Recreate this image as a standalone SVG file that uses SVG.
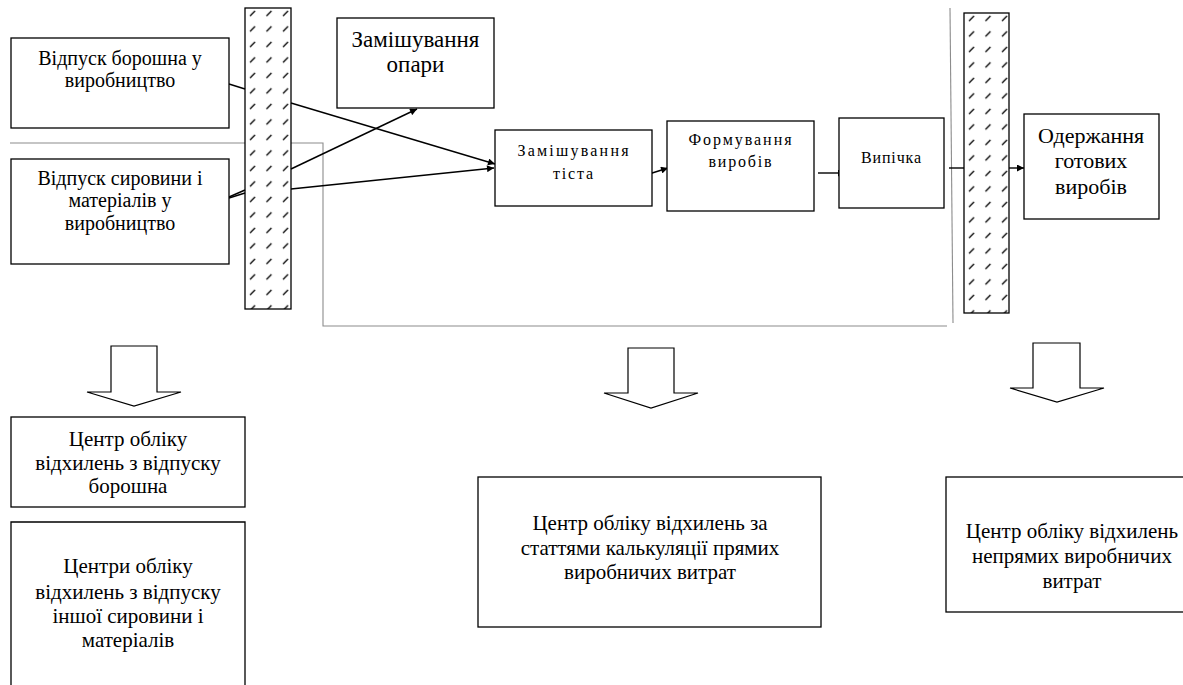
<svg xmlns="http://www.w3.org/2000/svg" width="1183" height="685" viewBox="0 0 1183 685">
  <style>
    .box { fill: #ffffff; stroke: #000000; stroke-width: 1.3; }
    .bar { stroke: #000000; stroke-width: 1.3; }
    .conn { stroke: #000000; stroke-width: 1.4; fill: none; }
    .guide { stroke: #8c8c8c; stroke-width: 1.1; fill: none; }
    .block { fill: #ffffff; stroke: #000000; stroke-width: 1.2; stroke-linejoin: miter; }
    .t { font-family: 'Liberation Serif', serif; fill: #000000; text-anchor: middle; }
    .s16 { font-size: 16px; }
    .s20 { font-size: 20px; }
    .s21 { font-size: 21px; }
    .s22 { font-size: 22px; }
    .s23 { font-size: 23px; }
  </style>
  <defs>
    <marker id="arrow" viewBox="0 0 10 10" refX="10" refY="5" markerWidth="8" markerHeight="7" markerUnits="userSpaceOnUse" orient="auto">
      <path d="M0,0 L10,5 L0,10 Z" fill="#000000"/>
    </marker>
    <pattern id="hatchA" patternUnits="userSpaceOnUse" x="245" y="8" width="16.5" height="15.5">
      <rect width="16.5" height="15.5" fill="#ffffff"/>
      <line x1="5" y1="8" x2="10" y2="3" stroke="#000000" stroke-width="1.3"/>
    </pattern>
    <pattern id="hatchB" patternUnits="userSpaceOnUse" x="964" y="13" width="16.5" height="15.5">
      <rect width="16.5" height="15.5" fill="#ffffff"/>
      <line x1="5" y1="8" x2="10" y2="3" stroke="#000000" stroke-width="1.3"/>
    </pattern>
  </defs>

  <rect width="1183" height="685" fill="#ffffff"/>

  <!-- boundary guides -->
  <g id="guides">
    <polyline class="guide" points="10,143 323,143 323,326 947,326"/>
    <line class="guide" x1="950" y1="8" x2="953" y2="323" stroke-width="1"/>
  </g>

  <!-- control barriers -->
  <g id="barrier-in">
    <rect class="bar" x="245" y="8" width="46" height="301" fill="url(#hatchA)"/>
  </g>
  <g id="barrier-out">
    <rect class="bar" x="964" y="13" width="45" height="300" fill="url(#hatchB)"/>
  </g>

  <!-- connectors -->
  <g id="connectors">
    <line class="conn" x1="229" y1="84" x2="245" y2="89"/>
    <line class="conn" x1="291" y1="103" x2="495" y2="164" marker-end="url(#arrow)"/>
    <line class="conn" x1="229" y1="197" x2="245" y2="190"/>
    <line class="conn" x1="229" y1="198" x2="245" y2="193"/>
    <line class="conn" x1="291" y1="169" x2="417" y2="109" marker-end="url(#arrow)"/>
    <line class="conn" x1="291" y1="189" x2="494" y2="168" marker-end="url(#arrow)"/>
    <line class="conn" x1="649" y1="174" x2="668" y2="168" marker-end="url(#arrow)"/>
    <line class="conn" x1="818" y1="173" x2="845" y2="173" marker-end="url(#arrow)"/>
    <line class="conn" x1="949" y1="168" x2="964" y2="168"/>
    <line class="conn" x1="1009" y1="168" x2="1024" y2="168" marker-end="url(#arrow)"/>
  </g>

  <!-- process nodes -->
  <g id="flour-release">
    <rect class="box" x="11" y="38" width="218" height="90"/>
    <text class="t s20" x="120" y="65">Відпуск борошна у</text>
    <text class="t s20" x="120" y="87">виробництво</text>
  </g>
  <g id="materials-release">
    <rect class="box" x="11" y="159" width="218" height="105"/>
    <text class="t s20" x="120" y="185">Відпуск сировини і</text>
    <text class="t s20" x="120" y="207">матеріалів у</text>
    <text class="t s20" x="120" y="230">виробництво</text>
  </g>
  <g id="sponge-mixing">
    <rect class="box" x="337" y="18" width="157" height="90"/>
    <text class="t s23" x="415.5" y="47">Замішування</text>
    <text class="t s23" x="415.5" y="72">опари</text>
  </g>
  <g id="dough-mixing">
    <rect class="box" x="495" y="130" width="157" height="76"/>
    <text class="t s16" x="573" y="156" textLength="111" lengthAdjust="spacing">Замішування</text>
    <text class="t s16" x="573" y="179" textLength="40" lengthAdjust="spacing">тіста</text>
  </g>
  <g id="shaping">
    <rect class="box" x="667" y="121" width="147" height="90"/>
    <text class="t s16" x="740" y="145" textLength="103" lengthAdjust="spacing">Формування</text>
    <text class="t s16" x="740" y="167" textLength="63" lengthAdjust="spacing">виробів</text>
  </g>
  <g id="baking">
    <rect class="box" x="839" y="118" width="105" height="90"/>
    <text class="t s16" x="891" y="163" textLength="60" lengthAdjust="spacing">Випічка</text>
  </g>
  <g id="finished-goods">
    <rect class="box" x="1024" y="114" width="135" height="105"/>
    <text class="t s22" x="1091" y="143">Одержання</text>
    <text class="t s22" x="1091" y="168">готових</text>
    <text class="t s22" x="1091" y="194">виробів</text>
  </g>

  <!-- block arrows -->
  <g id="down-arrow-left">
    <polygon class="block" points="111,346 157,346 157,392 181,392 134,406 87,392 111,392"/>
  </g>
  <g id="down-arrow-middle">
    <polygon class="block" points="628,348 674,348 674,393 698,393 651,408 604,393 628,393"/>
  </g>
  <g id="down-arrow-right">
    <polygon class="block" points="1033,343 1080,343 1080,388 1104,388 1057,402 1010,388 1033,388"/>
  </g>

  <!-- deviation accounting centres -->
  <g id="centre-flour">
    <rect class="box" x="11" y="417" width="234" height="90"/>
    <text class="t s21" x="128" y="446">Центр обліку</text>
    <text class="t s21" x="128" y="470">відхилень з відпуску</text>
    <text class="t s21" x="128" y="493">борошна</text>
  </g>
  <g id="centre-materials">
    <path class="box" d="M11,700 L11,522 L245,522 L245,700"/>
    <text class="t s21" x="128" y="573">Центри обліку</text>
    <text class="t s21" x="128" y="599">відхилень з відпуску</text>
    <text class="t s21" x="128" y="623">іншої сировини і</text>
    <text class="t s21" x="128" y="647">матеріалів</text>
  </g>
  <g id="centre-direct">
    <rect class="box" x="478" y="477" width="343" height="150"/>
    <text class="t s21" x="650" y="530">Центр обліку відхилень за</text>
    <text class="t s21" x="650" y="555">статтями калькуляції прямих</text>
    <text class="t s21" x="650" y="579">виробничих витрат</text>
  </g>
  <g id="centre-indirect">
    <rect class="box" x="946" y="477" width="254" height="135"/>
    <text class="t s21" x="1072" y="538">Центр обліку відхилень</text>
    <text class="t s21" x="1072" y="563">непрямих виробничих</text>
    <text class="t s21" x="1072" y="588">витрат</text>
  </g>
</svg>
